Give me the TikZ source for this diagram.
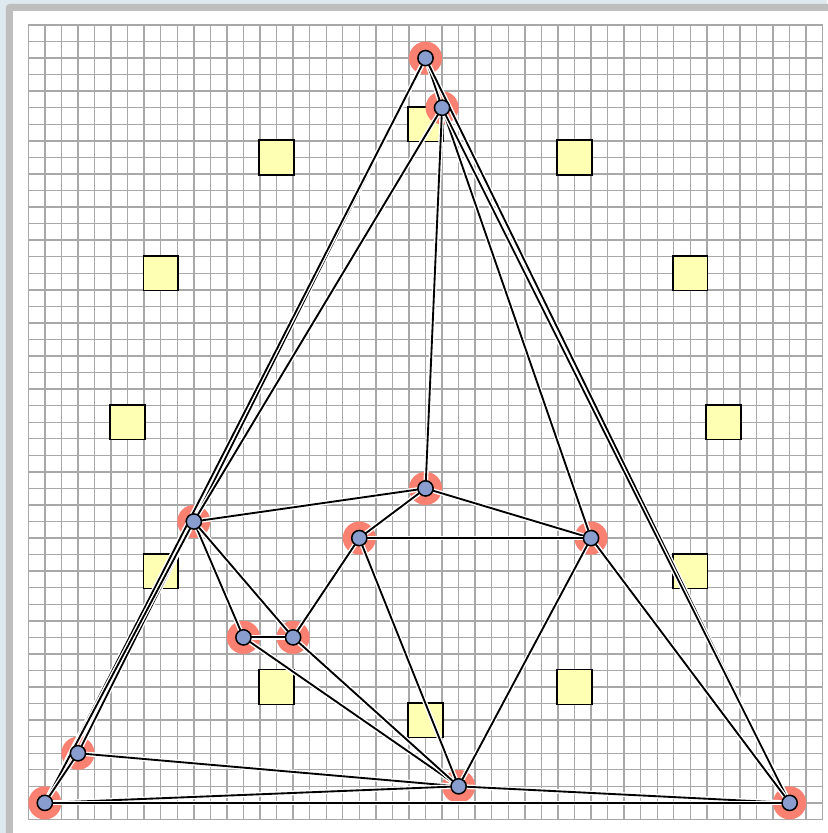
\documentclass[tikz,border=0pt]{standalone}
\usepackage{tikz}
\definecolor{deskcolor}{RGB}{221,233,239}
\definecolor{framecolor}{RGB}{190,190,190}
\definecolor{gridcolor}{RGB}{168,168,168}
\definecolor{sitecolor}{RGB}{255,255,180}
\definecolor{vertcolor}{RGB}{137,157,207}
\definecolor{halocolor}{RGB}{250,128,114}
\pgfdeclarelayer{background}
\pgfdeclarelayer{edgelayer}
\pgfsetlayers{background,edgelayer,main}
\tikzset{
  gridline/.style={draw=gridcolor, line width=1.2pt},
  site/.style={rectangle, draw=black, line width=1.3pt, fill=sitecolor,
               minimum size=1.05cm, inner sep=0pt},
  vertex/.style={circle, draw=black, line width=1.3pt, fill=vertcolor,
                 minimum size=0.46cm, inner sep=0pt},
  halo/.style={circle, fill=halocolor, minimum size=1cm, inner sep=0pt},
  triedge/.style={draw=black, line width=1.6pt,
                  preaction={draw=white, line width=4pt}},
}

\begin{document}
\begin{tikzpicture}[x=0.5cm, y=-0.5cm]
  \useasboundingbox (-1.71,-1.51) rectangle (48.26,48.82);
  \clip (-1.71,-1.51) rectangle (48.26,48.82);

  % Vertices
  \node[vertex] (a) at (24,2) {};
  \node[vertex] (b) at (25,5) {};
  \node[vertex] (c) at (24,28) {};
  \node[vertex] (d) at (10,30) {};
  \node[vertex] (e) at (20,31) {};
  \node[vertex] (f) at (34,31) {};
  \node[vertex] (g) at (13,37) {};
  \node[vertex] (h) at (16,37) {};
  \node[vertex] (i) at (3,44) {};
  \node[vertex] (j) at (26,46) {};
  \node[vertex] (k) at (1,47) {};
  \node[vertex] (l) at (46,47) {};

  % Edges
  \begin{pgfonlayer}{edgelayer}
    \draw[triedge] (a.center) -- (b.center);
    \draw[triedge] (a.center) -- (d.center);
    \draw[triedge] (a.center) -- (k.center);
    \draw[triedge] (a.center) -- (l.center);
    \draw[triedge] (b.center) -- (c.center);
    \draw[triedge] (b.center) -- (d.center);
    \draw[triedge] (b.center) -- (f.center);
    \draw[triedge] (b.center) -- (l.center);
    \draw[triedge] (c.center) -- (d.center);
    \draw[triedge] (c.center) -- (e.center);
    \draw[triedge] (c.center) -- (f.center);
    \draw[triedge] (d.center) -- (g.center);
    \draw[triedge] (d.center) -- (h.center);
    \draw[triedge] (d.center) -- (i.center);
    \draw[triedge] (d.center) -- (k.center);
    \draw[triedge] (e.center) -- (f.center);
    \draw[triedge] (e.center) -- (h.center);
    \draw[triedge] (e.center) -- (j.center);
    \draw[triedge] (f.center) -- (j.center);
    \draw[triedge] (f.center) -- (l.center);
    \draw[triedge] (g.center) -- (h.center);
    \draw[triedge] (g.center) -- (j.center);
    \draw[triedge] (h.center) -- (j.center);
    \draw[triedge] (i.center) -- (j.center);
    \draw[triedge] (i.center) -- (k.center);
    \draw[triedge] (k.center) -- (j.center);
    \draw[triedge] (j.center) -- (l.center);
    \draw[triedge] (k.center) -- (l.center);
  \end{pgfonlayer}

  \begin{pgfonlayer}{background}
    % Window frame and grid
    \fill[deskcolor] (-1.71,-1.51) rectangle (48.26,48.82);
    \fill[framecolor, rounded corners=3pt] (-1.35,-1.27) rectangle (52,52);
    \fill[white] (-0.92,-0.85) rectangle (52,52);
    \draw[gridline, xstep=0.5cm, ystep=0.5cm] (0,0) grid (48,48);

    % Sites on the circle
    \node[site] (s1) at (24,6) {};
    \node[site] (s2) at (33,8) {};
    \node[site] (s3) at (40,15) {};
    \node[site] (s4) at (42,24) {};
    \node[site] (s5) at (40,33) {};
    \node[site] (s6) at (33,40) {};
    \node[site] (s7) at (24,42) {};
    \node[site] (s8) at (15,40) {};
    \node[site] (s9) at (8,33) {};
    \node[site] (s10) at (6,24) {};
    \node[site] (s11) at (8,15) {};
    \node[site] (s12) at (15,8) {};

    % Halos
    \node[halo] (ha) at (a) {};
    \node[halo] (hb) at (b) {};
    \node[halo] (hc) at (c) {};
    \node[halo] (hd) at (d) {};
    \node[halo] (he) at (e) {};
    \node[halo] (hf) at (f) {};
    \node[halo] (hg) at (g) {};
    \node[halo] (hh) at (h) {};
    \node[halo] (hi) at (i) {};
    \node[halo] (hj) at (j) {};
    \node[halo] (hk) at (k) {};
    \node[halo] (hl) at (l) {};
  \end{pgfonlayer}
\end{tikzpicture}
\end{document}
